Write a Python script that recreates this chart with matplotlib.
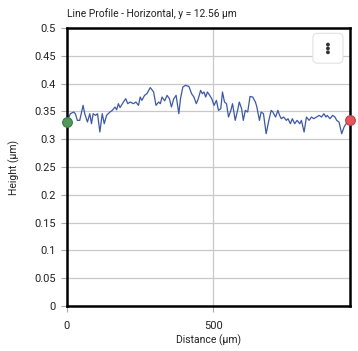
import matplotlib
matplotlib.use("Agg")
import matplotlib.pyplot as plt
from matplotlib.patches import FancyBboxPatch

# Profile data
distance_um = [0, 11.5, 23, 28.7, 35.6, 43.7, 55.2, 60.9, 70.1, 78.2, 83.9, 89.7, 97.7,
               104.6, 112.6, 120.7, 127.6, 135.6, 147.1, 155.2, 164.4, 170.1, 175.9,
               181.6, 193.1, 201.1, 208, 216, 227.5, 235.6, 244.8, 250.5, 256.3, 265.5,
               273.5, 285, 296.5, 304.5, 313.7, 319.4, 325.2, 334.4, 342.4, 350.5,
               357.4, 365.4, 373.4, 382.6, 388.4, 396.4, 405.6, 417.1, 426.3, 434.3,
               442.4, 449.3, 457.3, 463.1, 468.8, 474.6, 480.3, 488.3, 495.2, 503.3,
               511.3, 518.2, 526.2, 532, 538.9, 545.8, 552.6, 560.7, 566.4, 575.6,
               583.7, 589.4, 597.5, 603.2, 610.1, 618.2, 626.2, 635.4, 644.6, 649.2,
               658.4, 664.2, 672.2, 681.4, 690.6, 698.6, 704.4, 713.6, 721.6, 727.4,
               733.1, 741.2, 750.4, 756.1, 764.2, 771, 779, 787.1, 796.3, 802, 811.2,
               819.2, 828.4, 836.5, 844.4, 853.6, 862.8, 870.9, 878.9, 885.8, 890.4,
               899.6, 908.6, 916.8, 922.6, 930.6, 939.8, 947.9, 954.8, 962.8, 968.6]
height_um = [0.331, 0.346, 0.349, 0.346, 0.334, 0.334, 0.361, 0.346, 0.331, 0.346,
             0.328, 0.346, 0.343, 0.346, 0.313, 0.346, 0.328, 0.343, 0.349, 0.352,
             0.358, 0.353, 0.364, 0.357, 0.367, 0.373, 0.364, 0.367, 0.364, 0.367,
             0.361, 0.376, 0.370, 0.379, 0.382, 0.393, 0.385, 0.361, 0.367, 0.364,
             0.376, 0.369, 0.379, 0.373, 0.358, 0.373, 0.379, 0.346, 0.373, 0.394,
             0.397, 0.395, 0.382, 0.376, 0.364, 0.373, 0.388, 0.382, 0.385, 0.376,
             0.385, 0.379, 0.373, 0.361, 0.370, 0.352, 0.355, 0.385, 0.367, 0.364,
             0.340, 0.352, 0.364, 0.334, 0.352, 0.367, 0.355, 0.334, 0.352, 0.349,
             0.377, 0.376, 0.367, 0.359, 0.334, 0.349, 0.346, 0.310, 0.334, 0.352,
             0.349, 0.340, 0.352, 0.343, 0.337, 0.340, 0.334, 0.337, 0.328, 0.337,
             0.328, 0.334, 0.328, 0.334, 0.313, 0.340, 0.334, 0.340, 0.337, 0.340,
             0.343, 0.340, 0.346, 0.340, 0.343, 0.337, 0.343, 0.340, 0.334, 0.331,
             0.310, 0.322, 0.328, 0.334, 0.334]
y_ticks = [0, 0.05, 0.1, 0.15, 0.2, 0.25, 0.3, 0.35, 0.4, 0.45, 0.5]
y_tick_labels = ["0", "0.05", "0.1", "0.15", "0.2", "0.25", "0.3", "0.35", "0.4", "0.45", "0.5"]
x_ticks = [0, 500]

plt.rcParams['font.family'] = ['Roboto', 'DejaVu Sans']

fig = plt.figure(figsize=(3.58, 3.51), dpi=100)
ax = fig.add_axes([0.187, 0.128, 0.791, 0.792])

ax.plot(distance_um, height_um, color='#3b57b5', linewidth=0.9)
ax.plot(distance_um[0], height_um[0], 'o', markersize=7, color='#4f9a5a',
        markeredgecolor='#3d7a46', markeredgewidth=0.8, clip_on=False, zorder=5)
ax.plot(distance_um[-1], height_um[-1], 'o', markersize=7, color='#e8555c',
        markeredgecolor='#b84046', markeredgewidth=0.8, clip_on=False, zorder=5)

ax.set_xlim(0, distance_um[-1])
ax.set_ylim(0, 0.5)
ax.set_yticks(y_ticks)
ax.set_yticklabels(y_tick_labels)
ax.set_xticks(x_ticks)
ax.grid(True, color='#c8c8c8', linewidth=0.9)
ax.set_axisbelow(True)
for side in ax.spines.values():
    side.set_linewidth(1.8)
    side.set_color('black')
ax.tick_params(axis='both', labelsize=8, color='#aaaaaa', length=4,
               labelcolor='#222222', pad=4)
ax.tick_params(axis='x', pad=7)

ax.set_xlabel('Distance (µm)', fontsize=7.5, color='#222222', labelpad=2)
ax.set_ylabel('Height (µm)', fontsize=7.5, color='#222222', labelpad=10)
ax.set_title('Line Profile - Horizontal, y = 12.56 µm', fontsize=7.4, color='#222222',
             pad=8, loc='left')

# menu button in the top-right corner
btn = FancyBboxPatch((0.874, 0.82), 0.084, 0.085, boxstyle='round,pad=0,rounding_size=0.012',
                     transform=fig.transFigure, facecolor='white', edgecolor='#e2e2e2',
                     linewidth=0.8, zorder=10)
fig.patches.append(btn)
for dy in (-0.011, 0.0, 0.011):
    fig.patches.append(plt.Circle((0.916, 0.862 + dy), 0.0034, transform=fig.transFigure,
                                  color='#333333', zorder=11))

fig.savefig('out.png', dpi=100)
